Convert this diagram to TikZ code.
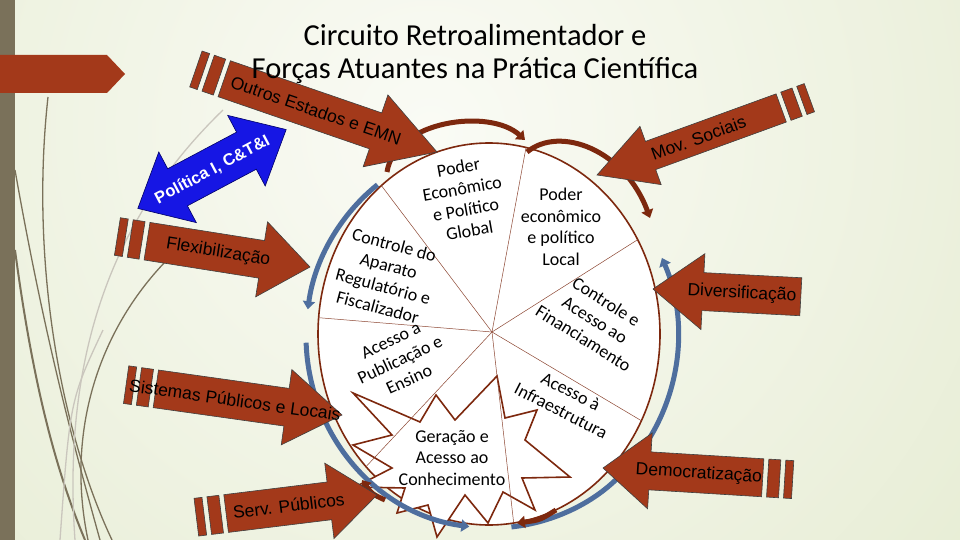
\documentclass[tikz,border=0pt]{standalone}
\usepackage{fontspec}
\setmainfont{Carlito}
\newfontfamily\arialfont{Liberation Sans}
\usetikzlibrary{arrows.meta,calc}

\definecolor{ferrugem}{RGB}{163,57,26}
\definecolor{marrom}{RGB}{125,40,14}
\definecolor{raiocor}{RGB}{140,70,50}
\definecolor{azulaco}{RGB}{78,110,158}
\definecolor{azulpol}{RGB}{22,22,228}
\definecolor{oliva}{RGB}{122,113,90}
\definecolor{fundoA}{RGB}{250,251,245}
\definecolor{fundoB}{RGB}{219,228,192}

\tikzset{
  comp/.store in=\fcomp, cab/.store in=\fcab, larg/.store in=\flarg,
  haste/.store in=\fhaste, txt/.store in=\ftxt, giro/.store in=\fgiro,
  listras/.store in=\flistras,
  comp=150, cab=50, larg=38, haste=19, txt=90, giro=0, listras=1,
  barra/.style={fill=ferrugem, draw=black!75, line width=0.6pt},
  rotulo/.style={font=\arialfont\fontsize{17.5}{20}\selectfont, transform shape, inner sep=0pt},
  % seta larga com listras, ponta em (0,0)
  forca/.pic={
    \filldraw[barra] (0,0) -- (-\fcab,\flarg) -- (-\fcab,\fhaste) -- (-\fcomp,\fhaste)
      -- (-\fcomp,-\fhaste) -- (-\fcab,-\fhaste) -- (-\fcab,-\flarg) -- cycle;
    \ifnum\flistras=1
      \filldraw[barra] (-\fcomp-5,\fhaste) rectangle (-\fcomp-17,-\fhaste);
      \filldraw[barra] (-\fcomp-22,\fhaste) rectangle (-\fcomp-30,-\fhaste);
    \fi
    \node[rotulo, rotate=\fgiro] (rot) at (-\ftxt,0) {#1};
  }
}

\begin{document}
\begin{tikzpicture}[x=1pt, y=-1pt,
  fio/.style={draw=oliva, line width=1.3pt},
  fioclaro/.style={draw=oliva!40, line width=1.3pt},
  anel/.style={draw=marrom, line width=1.6pt, fill=white},
  raio/.style={draw=raiocor, line width=0.5pt},
  estrela/.style={draw=marrom, line width=1.6pt, fill=white},
  setor/.style={font=\fontsize{18}{21.5}\selectfont, align=center, inner sep=0pt},
  volta/.style={line width=5pt, -{Triangle[length=8pt,width=12pt]}},
  titulo/.style={font=\fontsize{30.5}{33}\selectfont, align=center, inner sep=0pt},
  politica/.style={fill=azulpol, draw=blue!40!black, line width=0.6pt},
  rotulopol/.style={font=\arialfont\bfseries\fontsize{16.5}{18}\selectfont, text=white, transform shape, inner sep=0pt}]
\useasboundingbox (0,0) rectangle (960,540);

% fundo
\begin{scope}
  \clip (0,0) rectangle (960,540);
  \shade[inner color=fundoA, outer color=fundoB] (430,130) circle (1150);
\end{scope}
\draw[fio] (48,97) .. controls (30,260) and (60,430) .. (112,540);
\draw[fio] (15,170) .. controls (45,340) and (75,450) .. (100,540);
\draw[fio] (165,262) .. controls (100,330) and (65,430) .. (88,540);
\draw[fio, line width=2pt] (15,250) .. controls (35,400) and (60,480) .. (85,540);
\draw[fioclaro] (223,110) .. controls (130,200) and (60,330) .. (75,540);
\draw[fioclaro] (103,330) .. controls (70,400) .. (60,540);
\fill[oliva] (0,0) rectangle (15,540);
\fill[ferrugem] (0,55) -- (107,55) -- (125,74) -- (107,93) -- (0,93) -- cycle;

% circuito
\coordinate (elip) at (489,334);
\coordinate (centro) at (492,332);
\coordinate (ciclo) at (492,336);
\draw[anel] (elip) ellipse [x radius=171, y radius=191];

\draw[estrela] (497,376) -- (505,418) -- (537,410) -- (525,440) -- (570,477) -- (522,478)
  -- (535,510) -- (503,492) -- (488,523) -- (465,495) -- (437,537) -- (428,505)
  -- (397,513) -- (405,488) -- (355,487) -- (392,468) -- (353,445) -- (392,435)
  -- (353,393) -- (420,422) -- (436,395) -- (455,420) -- cycle;

\foreach \a in {231,282.5,330.4,27,81.7,136,184.9}
  \draw[raio] (centro) -- ($(elip)+(\a:171 and 191)$);

\draw[volta, azulaco] ([shift={(232:186 and 192)}]ciclo) arc[start angle=232, end angle=188, x radius=186, y radius=192];
\draw[volta, azulaco] ([shift={(178:186 and 192)}]ciclo) arc[start angle=178, end angle=97, x radius=186, y radius=192];
\draw[volta, azulaco] ([shift={(84:186 and 192)}]ciclo) arc[start angle=84, end angle=44, x radius=186, y radius=192];
\draw[volta, azulaco] ([shift={(37:186 and 192)}]ciclo) arc[start angle=37, end angle=-24, x radius=186, y radius=192];

\draw[volta, marrom] (387,172) .. controls (395,120) and (490,108) .. (525,140);
\draw[volta, marrom] (527,152) .. controls (560,125) and (625,150) .. (650,218);
\draw[volta, marrom] (385,500) .. controls (372,494) .. (362,480);
\draw[volta, marrom] (556,510) .. controls (540,520) .. (517,523);

\node[setor, rotate=10] (global) at (464,199) {Poder\\Econômico\\e Político\\Global};
\node[setor] (local) at (561,227) {Poder\\econômico\\e político\\Local};
\node[setor, rotate=-15] (controle) at (386,276) {Controle do\\Aparato\\Regulatório e\\Fiscalizador};
\node[setor, rotate=25] (publicacao) at (400,360) {Acesso a\\Publicação e\\Ensino};
\node[setor, rotate=-32] (financ) at (595,320) {Controle e\\Acesso ao\\Financiamento};
\node[setor, rotate=-27] (infra) at (566,401) {Acesso à\\Infraestrutura};
\node[setor] (conhec) at (452,458) {Geração e\\Acesso ao\\Conhecimento};

% forcas atuantes
\pic[rotate=-19, comp=225, cab=65, txt=128] (outros) at (437,152) {forca={Outros Estados e EMN}};
\pic[rotate=-9, comp=165, cab=49, txt=93] (flexi) at (310,267) {forca=Flexibilização};
\pic[rotate=-8, comp=188, cab=56, txt=108] (sistemas) at (342,415) {forca={Sistemas Públicos e Locais}};
\pic[rotate=7, comp=152, cab=48, txt=89] (serv) at (377,495) {forca={Serv. Públicos}};
\pic[rotate=200, comp=196, cab=57, larg=31, haste=15, txt=108, giro=180] (mov) at (597,175) {forca={Mov. Sociais}};
\pic[rotate=177, comp=148, cab=50, txt=89, giro=180, listras=0] (divers) at (653,289) {forca=Diversificação};
\pic[rotate=176.5, comp=160, cab=47, txt=96, giro=180] (democ) at (603,468) {forca=Democratização};

\begin{scope}[shift={(212,169)}, rotate=28]
  \filldraw[politica] (-84,0) -- (-39,-40) -- (-39,-21) -- (39,-21) -- (39,-40) -- (84,0)
    -- (39,40) -- (39,21) -- (-39,21) -- (-39,40) -- cycle;
  \node[rotulopol] (politica) at (0,1) {Política I, C\&T\&I};
\end{scope}

\node[titulo] (titulo) at (475,54) {Circuito Retroalimentador e\\Forças Atuantes na Prática Científica};
\end{tikzpicture}
\end{document}
